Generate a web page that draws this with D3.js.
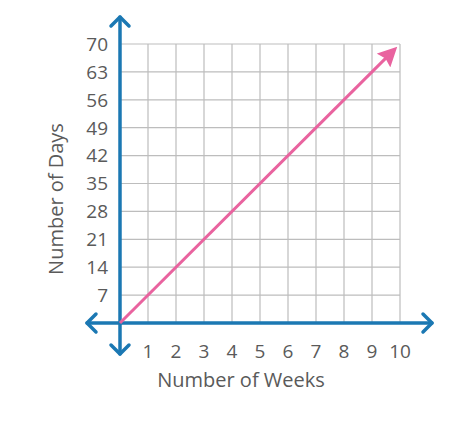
<!DOCTYPE html>
<html>
<head>
<meta charset="utf-8">
<script src="https://cdn.jsdelivr.net/npm/d3@7"></script>
<style>
  body { margin: 0; background: #fff; }
  text { font-family: "Open Sans", Lato, sans-serif; fill: #5a5a5a; }
</style>
</head>
<body>
<div id="chart"></div>
<script>
const weeks = [0, 10];
const days = [0, 70];
const xTicks = [1, 2, 3, 4, 5, 6, 7, 8, 9, 10];
const yTicks = [7, 14, 21, 28, 35, 42, 49, 56, 63, 70];

const width = 465;
const height = 422;

const x = d3.scaleLinear().domain([0, 10]).range([120, 400]);
const y = d3.scaleLinear().domain([0, 70]).range([323, 44]);

const svg = d3.select("#chart")
    .append("svg")
    .attr("width", width)
    .attr("height", height);

const defs = svg.append("defs");
defs.append("marker")
    .attr("id", "pinkHead")
    .attr("viewBox", "0 0 10 10")
    .attr("refX", 12)
    .attr("refY", 5)
    .attr("markerWidth", 6.5)
    .attr("markerHeight", 6.5)
    .attr("markerUnits", "strokeWidth")
    .attr("orient", "auto")
    .append("path")
    .attr("d", "M0,0 L10,5 L0,10 L1.5,5 Z")
    .attr("fill", "#e9639f");

// grid
const grid = svg.append("g").attr("class", "grid");
grid.selectAll("line.v")
    .data(xTicks)
    .enter()
    .append("line")
    .attr("x1", (d) => x(d))
    .attr("x2", (d) => x(d))
    .attr("y1", y(70))
    .attr("y2", y(0))
    .style("stroke", "#bdbdbd")
    .style("stroke-width", 1.2);
grid.selectAll("line.h")
    .data(yTicks)
    .enter()
    .append("line")
    .attr("x1", x(0))
    .attr("x2", x(10))
    .attr("y1", (d) => y(d))
    .attr("y2", (d) => y(d))
    .style("stroke", "#bdbdbd")
    .style("stroke-width", 1.2);

// axes with arrow heads on both ends
const axisColor = "#1b78b3";
const axes = svg.append("g")
    .style("stroke", axisColor)
    .style("stroke-width", 3.5)
    .style("fill", "none")
    .style("stroke-linecap", "round")
    .style("stroke-linejoin", "round");

const x0 = x(0), y0 = y(0);
axes.append("line").attr("x1", 87).attr("y1", y0).attr("x2", 432).attr("y2", y0);
axes.append("line").attr("x1", x0).attr("y1", 17).attr("x2", x0).attr("y2", 354);

const a = 9;
axes.append("path").attr("d", `M${87 + a},${y0 - a} L87,${y0} L${87 + a},${y0 + a}`);
axes.append("path").attr("d", `M${432 - a},${y0 - a} L432,${y0} L${432 - a},${y0 + a}`);
axes.append("path").attr("d", `M${x0 - a},${17 + a} L${x0},17 L${x0 + a},${17 + a}`);
axes.append("path").attr("d", `M${x0 - a},${354 - a} L${x0},354 L${x0 + a},${354 - a}`);

// tick labels
svg.append("g")
    .selectAll("text")
    .data(yTicks)
    .enter()
    .append("text")
    .attr("x", 108)
    .attr("y", (d) => y(d))
    .attr("dy", "0.36em")
    .attr("text-anchor", "end")
    .style("font-size", "19px")
    .text((d) => d);

svg.append("g")
    .selectAll("text")
    .data(xTicks)
    .enter()
    .append("text")
    .attr("x", (d) => x(d))
    .attr("y", 358)
    .attr("text-anchor", "middle")
    .style("font-size", "19px")
    .text((d) => d);

// axis titles
svg.append("text")
    .attr("x", 241)
    .attr("y", 387)
    .attr("text-anchor", "middle")
    .style("font-size", "20px")
    .text("Number of Weeks");

svg.append("text")
    .attr("transform", "translate(63,199) rotate(-90)")
    .attr("text-anchor", "middle")
    .style("font-size", "20px")
    .text("Number of Days");

// the line, trimmed a little so it stops at the arrow tip
const line = d3.line()
    .x((d) => x(d[0]))
    .y((d) => y(d[1]));

const pinkLine = svg.append("path")
    .datum(weeks.map((w, i) => [w, days[i]]))
    .attr("d", line)
    .style("fill", "none")
    .style("stroke", "#e9639f")
    .style("stroke-width", 3)
    .attr("marker-end", "url(#pinkHead)");

const len = pinkLine.node().getTotalLength();
pinkLine.style("stroke-dasharray", `${len - 8} ${len}`);
</script>
</body>
</html>
